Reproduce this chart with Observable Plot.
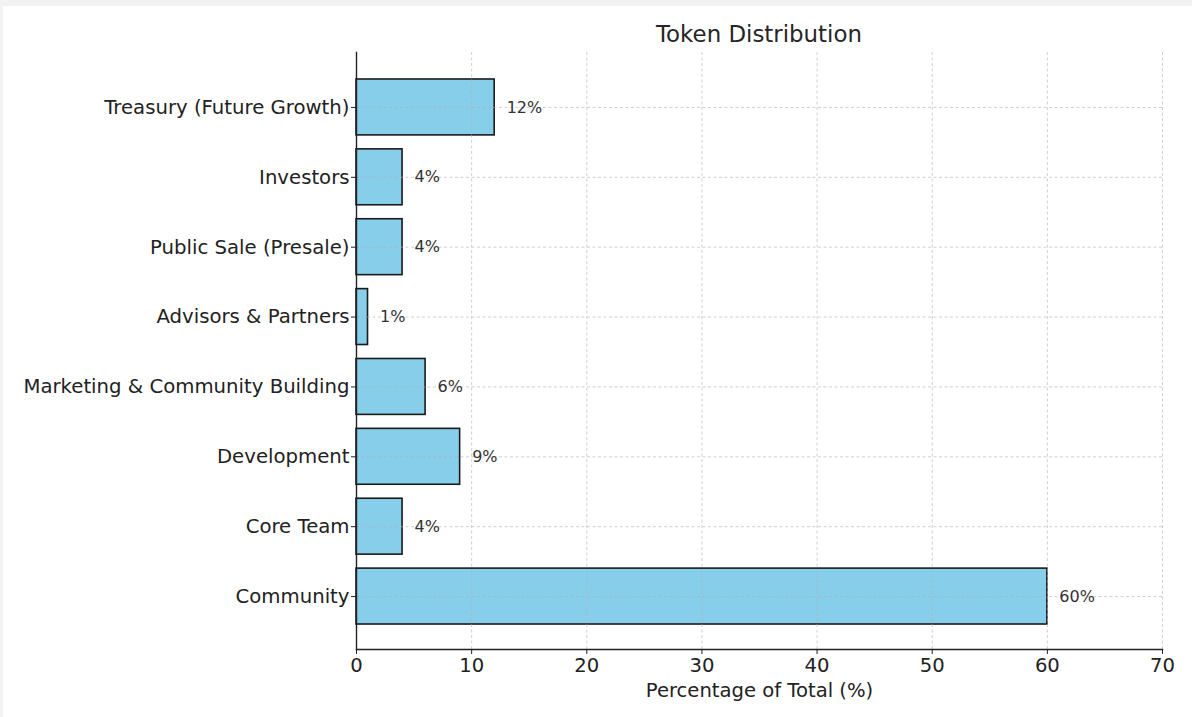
<!DOCTYPE html>
<html>
<head>
<meta charset="utf-8">
<script src="https://cdn.jsdelivr.net/npm/d3@7"></script>
<script src="https://cdn.jsdelivr.net/npm/@observablehq/plot@0.6"></script>
<style>
  html, body { margin: 0; padding: 0; background: #f2f2f2; }
  #wrap { position: relative; width: 1192px; height: 717px; overflow: hidden; }
  #card { position: absolute; left: 3px; top: 6px; right: 0; bottom: 0; background: #fff; }
  #chart { position: absolute; left: 0; top: 0; }
  #title { position: absolute; left: 356px; width: 806px; top: 20px; text-align: center;
           font-family: "DejaVu Sans", sans-serif; font-size: 22.9px; color: #262626; line-height: 28px; }
  svg text { font-family: "DejaVu Sans", sans-serif; }
</style>
</head>
<body>
<div id="wrap">
  <div id="card"></div>
  <div id="chart"></div>
  <div id="title">Token Distribution</div>
</div>
<script>
const categories = [
  "Treasury (Future Growth)",
  "Investors",
  "Public Sale (Presale)",
  "Advisors & Partners",
  "Marketing & Community Building",
  "Development",
  "Core Team",
  "Community"
];
const values = [12, 4, 4, 1, 6, 9, 4, 60];
const xTicks = [0, 10, 20, 30, 40, 50, 60, 70];

const data = categories.map((c, i) => ({category: c, value: values[i]}));

const chart = Plot.plot({
  width: 1192,
  height: 717,
  marginLeft: 356,
  marginRight: 30,
  marginTop: 52,
  marginBottom: 68,
  style: {background: "transparent", fontFamily: "DejaVu Sans, sans-serif"},
  x: {domain: [0, 70], ticks: xTicks, label: null},
  y: {domain: categories, range: [72, 631], round: false, paddingInner: 0.2, paddingOuter: 0.1, label: null},
  marks: [
    Plot.barX(data, {y: "category", x: "value", fill: "#87CEEB", stroke: "#1a1a1a", strokeWidth: 1.6}),
    Plot.gridX(xTicks, {stroke: "#b0b0b0", strokeOpacity: 0.6, strokeDasharray: "3,2.5", strokeWidth: 1}),
    Plot.gridY(categories, {stroke: "#b0b0b0", strokeOpacity: 0.6, strokeDasharray: "3,2.5", strokeWidth: 1}),
    Plot.text(data, {y: "category", x: "value", text: d => d.value + "%", textAnchor: "start", dx: 12,
      fill: "#333", fontSize: 16}),
    Plot.axisX(xTicks, {tickSize: 5, tickPadding: 4, fontSize: 19.6, color: "#222", stroke: "#222",
      label: "Percentage of Total (%)", labelAnchor: "center", labelOffset: 47, labelArrow: "none"}),
    Plot.axisY({tickSize: 5, tickPadding: 2, fontSize: 19.7, color: "#222", stroke: "#222", label: null}),
    Plot.frame({anchor: "left", stroke: "#222", strokeWidth: 1.4}),
    Plot.frame({anchor: "bottom", stroke: "#222", strokeWidth: 1.4})
  ]
});
document.getElementById("chart").appendChild(chart);
</script>
</body>
</html>
